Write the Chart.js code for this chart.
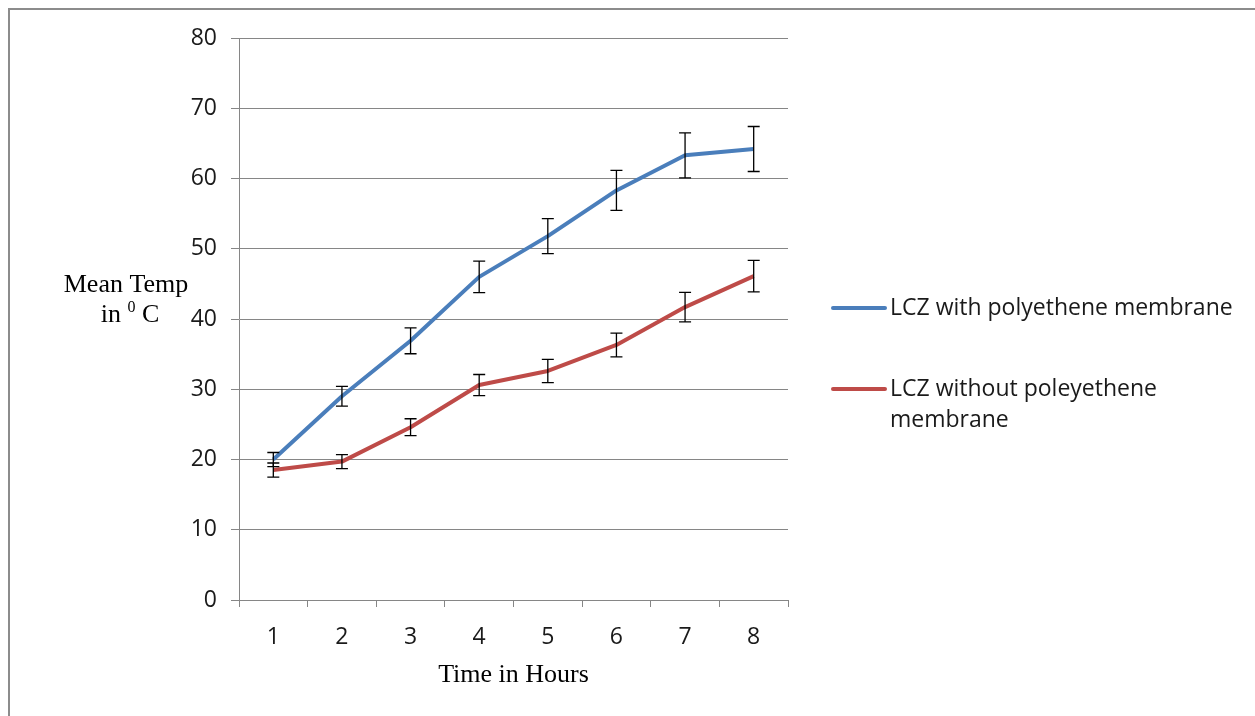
<!DOCTYPE html>
<html lang="en">
  <head>
    <meta charset="UTF-8" />
    <title>Mean Temp</title>
    <style type="text/css">
      body {
        margin: 0;
        background-color: #ffffff;
        overflow: hidden;
      }
      .frame {
        position: absolute;
        left: 8px;
        top: 8px;
        width: 1300px;
        height: 760px;
        border-left: 2px solid #8c8c8c;
        border-top: 2px solid #8c8c8c;
      }
      #temp-chart {
        position: absolute;
        left: 0;
        top: 0;
      }
    </style>
  </head>
  <body>
    <div class="frame"></div>
    <canvas id="temp-chart" width="1255" height="716"></canvas>

    <script src="https://cdn.jsdelivr.net/npm/chart.js@4.4.1/dist/chart.umd.min.js"></script>

    <script type="text/javascript">
      const hours = ["1", "2", "3", "4", "5", "6", "7", "8"];

      const withMembrane = [20.0, 29.0, 36.9, 46.0, 51.8, 58.3, 63.3, 64.2];
      const withMembraneErr = [1.0, 1.4, 1.85, 2.25, 2.5, 2.85, 3.2, 3.2];

      const withoutMembrane = [18.5, 19.7, 24.6, 30.6, 32.6, 36.3, 41.7, 46.1];
      const withoutMembraneErr = [1.0, 1.0, 1.2, 1.5, 1.65, 1.7, 2.1, 2.25];

      const legendLines = [
        ["LCZ with polyethene membrane"],
        ["LCZ without poleyethene", "membrane"],
      ];

      const gridColor = "#868686";
      const tickFont = { family: "'Open Sans', sans-serif", size: 23 };
      const serifFont = "'Liberation Serif', 'Times New Roman', serif";

      // error bars, drawn from the errors kept on each dataset
      const errorBars = {
        id: "errorBars",
        afterDatasetsDraw(chart) {
          const { ctx, scales } = chart;
          ctx.save();
          ctx.strokeStyle = "#000000";
          ctx.lineWidth = 1.3;
          chart.data.datasets.forEach((ds, i) => {
            const meta = chart.getDatasetMeta(i);
            meta.data.forEach((pt, j) => {
              const top = scales.y.getPixelForValue(ds.data[j] + ds.errors[j]);
              const bottom = scales.y.getPixelForValue(ds.data[j] - ds.errors[j]);
              const x = pt.x;
              ctx.beginPath();
              ctx.moveTo(x, top);
              ctx.lineTo(x, bottom);
              ctx.moveTo(x - 6, top);
              ctx.lineTo(x + 6, top);
              ctx.moveTo(x - 6, bottom);
              ctx.lineTo(x + 6, bottom);
              ctx.stroke();
            });
          });
          ctx.restore();
        },
      };

      // y title (horizontal, two lines) and the legend on the right
      const sideTexts = {
        id: "sideTexts",
        afterDraw(chart) {
          const { ctx, chartArea } = chart;
          ctx.save();
          ctx.fillStyle = "#000000";
          ctx.textBaseline = "middle";

          ctx.font = "26px " + serifFont;
          ctx.textAlign = "center";
          const cx = chartArea.left - 113;
          ctx.fillText("Mean Temp", cx, chartArea.top + 247);

          const y2 = chartArea.top + 277;
          const a = "in ";
          const b = "0";
          const c = " C";
          const wa = ctx.measureText(a).width;
          const wc = ctx.measureText(c).width;
          ctx.font = "16px " + serifFont;
          const wb = ctx.measureText(b).width;
          let x = cx + 4 - (wa + wb + wc) / 2;
          ctx.textAlign = "left";
          ctx.font = "26px " + serifFont;
          ctx.fillText(a, x, y2);
          ctx.font = "16px " + serifFont;
          ctx.fillText(b, x + wa, y2 - 7);
          ctx.font = "26px " + serifFont;
          ctx.fillText(c, x + wa + wb, y2);

          const lx = chartArea.right + 45;
          const rows = [chartArea.top + 270, chartArea.top + 351];
          ctx.font = "23px 'Open Sans', sans-serif";
          chart.data.datasets.forEach((ds, i) => {
            const ly = rows[i];
            ctx.strokeStyle = ds.borderColor;
            ctx.lineWidth = 4;
            ctx.lineCap = "round";
            ctx.beginPath();
            ctx.moveTo(lx, ly);
            ctx.lineTo(lx + 52, ly);
            ctx.stroke();
            ctx.fillStyle = "#1a1a1a";
            legendLines[i].forEach((t, k) => {
              ctx.fillText(t, lx + 57, ly + k * 31);
            });
          });
          ctx.restore();
        },
      };

      const chart = new Chart("temp-chart", {
        type: "line",
        data: {
          labels: hours,
          datasets: [
            {
              label: "LCZ with polyethene membrane",
              data: withMembrane,
              errors: withMembraneErr,
              borderColor: "#4a7ebb",
              borderWidth: 4,
              pointRadius: 0,
              tension: 0,
              borderJoinStyle: "round",
              fill: false,
            },
            {
              label: "LCZ without poleyethene membrane",
              data: withoutMembrane,
              errors: withoutMembraneErr,
              borderColor: "#be4b48",
              borderWidth: 4,
              pointRadius: 0,
              tension: 0,
              borderJoinStyle: "round",
              fill: false,
            },
          ],
        },
        options: {
          responsive: false,
          animation: false,
          devicePixelRatio: 1,
          layout: {
            padding: { top: 38, right: 467, left: 0, bottom: 0 },
          },
          plugins: {
            legend: { display: false },
            tooltip: { enabled: false },
          },
          scales: {
            x: {
              offset: true,
              grid: {
                offset: true,
                drawOnChartArea: false,
                drawTicks: true,
                tickLength: 7,
                color: gridColor,
              },
              border: { color: gridColor },
              ticks: {
                color: "#1a1a1a",
                font: tickFont,
                padding: 17,
                maxRotation: 0,
              },
              title: {
                display: true,
                text: "Time in Hours",
                color: "#000000",
                font: { family: serifFont, size: 26 },
                padding: { top: 0, bottom: 25 },
              },
              afterFit(scale) {
                scale.height = 116;
              },
            },
            y: {
              min: 0,
              max: 80,
              ticks: {
                stepSize: 10,
                color: "#1a1a1a",
                font: tickFont,
                padding: 14,
              },
              grid: {
                color: gridColor,
                tickLength: 8,
              },
              border: { color: gridColor },
              afterFit(scale) {
                scale.width = 239;
              },
            },
          },
        },
        plugins: [errorBars, sideTexts],
      });
    </script>
  </body>
</html>
